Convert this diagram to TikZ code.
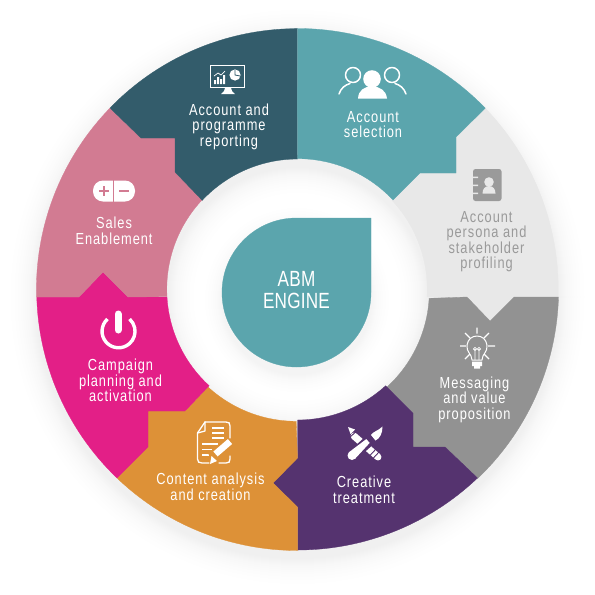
\documentclass[tikz,border=0pt]{standalone}
\usepackage{fontspec}
\newfontfamily\lblfont{Liberation Sans}[FakeStretch=0.80,LetterSpace=6]
\newfontfamily\midfont{Liberation Sans}[FakeStretch=0.78,LetterSpace=1]
\usetikzlibrary{arrows.meta}
\definecolor{abmteal}   {RGB}{91,165,173}
\definecolor{darkteal}  {RGB}{51,92,107}
\definecolor{salespink} {RGB}{210,123,146}
\definecolor{campmagenta}{RGB}{227,31,135}
\definecolor{contorange}{RGB}{221,145,55}
\definecolor{creapurple}{RGB}{85,51,111}
\definecolor{msggray}   {RGB}{146,146,146}
\definecolor{perslight} {RGB}{232,232,232}
\definecolor{perstext}  {RGB}{154,154,154}

\begin{document}
\begin{tikzpicture}[
  x=1pt, y=-1pt,
  seg/.style={fill=#1, draw=#1, line width=0.3pt},
  lbl/.style={font=\lblfont\fontsize{16}{15.5}\selectfont, align=center,
              text=white, inner sep=0pt},
  icon/.style={draw=white, line width=1.5pt, line cap=round, line join=round},
  gap/.style={draw=#1, line width=1.2pt, line cap=round},
]
\useasboundingbox (0,0) rectangle (595,595);

% Soft shadows
\foreach \r in {1,2,3,4,5,6,7,8,10,12,14,16,19,22,26}{
  \fill[black, opacity=0.0045, even odd rule]
    (297.5,297) circle ({261pt+\r pt}) (297.5,297) circle ({130pt-\r pt});
}
\foreach \r in {1,2,3,4,5,6,8,10,12,15,18}{
  \fill[black, opacity=0.0045] (297,300) circle ({74pt+\r pt});
}

% Ring segments
\path[seg=perslight] (485,108) arc[start angle=44, end angle=-1.65, radius=261pt]
  -- (514,297) -- (490,321) -- (467,297) -- (427,297)
  arc[start angle=-3.3, end angle=43.1, radius=130.5pt]
  -- (420,173) -- (456,173) -- (456,137) -- cycle;
\path[seg=msggray] (558.5,297) arc[start angle=-1.65, end angle=-46.4, radius=261pt]
  -- (445,447) -- (413,447) -- (413,413) -- (387,387)
  arc[start angle=-47.5, end angle=-3.3, radius=130.5pt]
  -- (467,297) -- (490,321) -- (514,297) -- cycle;
\path[seg=creapurple] (477.5,478) arc[start angle=-46.4, end angle=-90, radius=261pt]
  -- (297.5,507) -- (273,483) -- (297.5,458) -- (297.5,420)
  arc[start angle=-90, end angle=-47.5, radius=130.5pt]
  -- (413,413) -- (413,447) -- (445,447) -- cycle;
\path[seg=contorange] (297.5,550.5) arc[start angle=270, end angle=226.2, radius=261pt]
  -- (148,447) -- (148,411) -- (185,411) -- (208,387)
  arc[start angle=227.5, end angle=270, radius=130.5pt]
  -- (297.5,458) -- (273,483) -- (297.5,507) -- cycle;
\path[seg=campmagenta] (117,478) arc[start angle=226.2, end angle=181.6, radius=261pt]
  -- (79,297) -- (103,272) -- (128,297) -- (167,297)
  arc[start angle=183.3, end angle=227.5, radius=130.5pt]
  -- (185,411) -- (148,411) -- (148,447) -- cycle;
\path[seg=salespink] (36.5,297) arc[start angle=181.6, end angle=135.9, radius=261pt]
  -- (141,138) -- (175,138) -- (175,172) -- (202,200)
  arc[start angle=136.9, end angle=183.3, radius=130.5pt]
  -- (128,297) -- (103,272) -- (79,297) -- cycle;
\path[seg=darkteal] (110,108) arc[start angle=135.9, end angle=90, radius=261pt]
  -- (297.5,159)
  arc[start angle=90, end angle=136.9, radius=130.5pt]
  -- (175,172) -- (175,138) -- (141,138) -- cycle;
\path[seg=abmteal] (297.5,28.5) arc[start angle=90, end angle=44, radius=261pt]
  -- (456,137) -- (456,173) -- (420,173) -- (393,200)
  arc[start angle=43.1, end angle=90, radius=130.5pt] -- cycle;

% Centre drop
\path[seg=abmteal] (371,218) -- (371,292.5)
  arc[start angle=0, end angle=-270, radius=74.5pt] -- cycle;
\node[font=\midfont\fontsize{22}{22.5}\selectfont, align=center, text=white, inner sep=0pt]
  (engine) at (296.5,290) {ABM\\ENGINE};

% Labels
\node[lbl] (reporting) at (229,126.5) {Account and\\programme\\reporting};
\node[lbl] (selection) at (373,124.5) {Account\\selection};
\node[lbl, text=perstext] (persona) at (486.5,241.5) {Account\\persona and\\stakeholder\\profiling};
\node[lbl] (messaging) at (474.5,399.5) {Messaging\\and value\\proposition};
\node[lbl] (creative) at (364,490) {Creative\\treatment};
\node[lbl] (content) at (210.5,487) {Content analysis\\and creation};
\node[lbl] (campaign) at (120.5,380.5) {Campaign\\planning and\\activation};
\node[lbl] (sales) at (114,231) {Sales\\Enablement};

% Monitor
\draw[icon, line cap=butt, line join=miter] (210.5,65.5) rectangle (244.5,87.5);
\fill[white] (225,88) -- (231,88) -- (232,91) -- (235,94) -- (221,94) -- (224,91) -- cycle;
\fill[white] (214,80) rectangle (216,84) (217,77) rectangle (219,84)
  (220,79) rectangle (222,84) (223,75) rectangle (225,84);
\draw[white, line width=0.7pt] (214,76) -- (218,73) -- (221,75) -- (225,71);
\fill[white] (235,75) circle (5.6pt);
\draw[darkteal, line width=0.8pt] (235,70) -- (235,75) -- (240,76);

% People
\draw[icon] (339,94) .. controls (341,88) and (345,85) .. (350,83.5);
\draw[icon] (406,94) .. controls (404,88) and (400,85) .. (395,83.5);
\draw[icon] (353,75) circle (7.5pt);
\draw[icon] (392,75) circle (7.5pt);
\fill[abmteal] (372,79) circle (11pt);
\fill[abmteal] (354,100) -- (361,85) -- (383,85) -- (390,100) -- cycle;
\fill[white] (372,79) circle (8.8pt);
\fill[white] (358,98.5) .. controls (358.5,90) and (364,87) .. (372,86)
  .. controls (380,87) and (386,90) .. (387,98.5) -- cycle;

% Address book
\fill[perstext, rounded corners=2.5pt] (473,169) rectangle (501.5,201);
\fill[perslight] (471,176.5) rectangle (478,178) (471,184.5) rectangle (478,186)
  (471,192.5) rectangle (478,194);
\fill[perslight] (489,182) circle (4.8pt);
\fill[perslight] (482.5,193.5) .. controls (482.5,189) and (485,186) .. (489,186)
  .. controls (493,186) and (495.5,189) .. (495.5,193.5) -- cycle;

% Bulb
\draw[icon, line width=1pt] (472,360) .. controls (472,354) and (466,352) .. (467,345)
  .. controls (468,339) and (472,336) .. (477,336)
  .. controls (482,336) and (486,339) .. (487,345)
  .. controls (488,352) and (482,354) .. (482,360) -- cycle;
\draw[white, line width=0.6pt] (475,360) -- (475,349) (479,360) -- (479,349)
  (475,349) circle (1.6pt) (479,349) circle (1.6pt);
\fill[white] (472,361.5) rectangle (482,366) (474,366) rectangle (480,368.5);
\draw[icon, line width=1.2pt, line cap=butt] (477,327.5) -- (477,333.5)
  (460,346) -- (466,346) (488,346) -- (495,346)
  (465,333) -- (470,338) (489,333) -- (484,338)
  (465,359) -- (470,354) (489,359) -- (484,354);

% Pen and brush
\fill[white] (348,427) -- (355,429.5) -- (350.5,434) -- cycle;
\draw[white, line width=7pt, line cap=round] (354,436) -- (378,457);
\draw[gap=creapurple, line width=0.9pt, line cap=butt] (350,437) -- (358,430)
  (369,456.5) -- (376,449) (372.5,459) -- (379,452);
\draw[gap=creapurple, line width=11pt, line cap=butt] (356,452.5) -- (371,439);
\fill[white] (352,455.5) circle (4.5pt);
\fill[white] (355,458.8) -- (349,452.2) -- (366.3,439.1) -- (369.7,442.9) -- cycle;
\fill[white] (371,435) .. controls (373,431.5) and (378,431) .. (382.5,426.5)
  .. controls (382.5,433) and (380,438.5) .. (375.5,440.5) -- cycle;

% Document and pencil
\draw[icon, line width=1.3pt] (205,422) -- (226,422) .. controls (229,422) and (230,423) .. (230,426)
  -- (230,438);
\draw[icon, line width=1.3pt] (205,422) -- (197.5,433) -- (197.5,459)
  .. controls (197.5,462) and (199,463) .. (202,463) -- (209,463);
\draw[icon, line width=1.3pt] (219,463) -- (226,463) .. controls (229,463) and (230,462) .. (230,459) -- (230,456);
\draw[icon, line width=1.3pt] (205,422) -- (205,431) -- (197.5,433);
\draw[icon, line width=1.2pt, line cap=butt] (212,428) -- (224,428) (212,433) -- (224,433)
  (212,438) -- (224,438) (202,444) -- (218,444) (202,449.5) -- (212,449.5) (202,455) -- (209,455);
\draw[contorange, line width=9pt] (211,457) -- (230,440);
\draw[white, line width=6.5pt] (215.5,454) -- (230,441.5);
\fill[white] (210,464) -- (211.5,456) -- (217,461) -- cycle;

% Power
\draw[white, line width=3.4pt] (107.5,319) arc[start angle=132, end angle=408, radius=16.5pt];
\draw[white, line width=7pt, line cap=round] (118,314) -- (118,330);

% Pill
\fill[white, rounded corners=10pt] (93,180.5) rectangle (135,201.5);
\draw[salespink, line width=1.2pt] (113.5,180) -- (113.5,202);
\draw[salespink, line width=1.2pt] (99,191) -- (109,191) (104,186) -- (104,196) (119,191) -- (129,191);
\end{tikzpicture}
\end{document}
